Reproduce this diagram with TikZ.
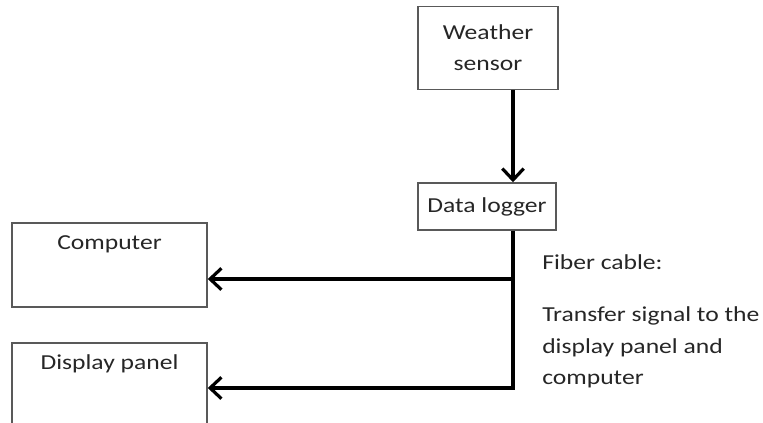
\documentclass[tikz,border=0pt]{standalone}
\usepackage{fontspec}
\setmainfont{Carlito}[FakeStretch=1.2]
\usetikzlibrary{arrows.meta}
\begin{document}
\begin{tikzpicture}[x=0.75pt,y=-0.75pt,
	box/.style={draw=black!65,line width=1.1pt,inner sep=0pt,align=center},
	wire/.style={line width=2.4pt},
	feed/.style={wire,-{Straight Barb[length=8.5pt,width=16pt,line width=2.4pt]}},
	font=\fontsize{16}{23.5}\selectfont,text=black!85]
	\useasboundingbox (0,0) rectangle (763,423);
	\clip (0,0) rectangle (763,423);
	\node[box,minimum width=105pt,minimum height=62.25pt] (sensor) at (488,48) {Weather\\sensor};
	\node[box,minimum width=103.5pt,minimum height=35.25pt] (logger) at (487,206.5) {Data logger};
	\node[box,minimum width=146.25pt,minimum height=63pt,
		label={[anchor=center,yshift=-16.5pt]north:Computer}] (computer) at (109.5,265) {};
	\node[box,minimum width=146.25pt,minimum height=65.25pt,
		label={[anchor=center,yshift=-16.5pt]north:Display panel}] (display) at (109.5,386.5) {};
	\draw[feed] (sensor.south -| 513,0) -- (logger.north -| 513,0);
	\draw[wire] (logger.south -| 513,0) -- (513,279) coordinate (tapc)
		-- (513,388) coordinate (tapd);
	\draw[feed] (tapc) -- (computer.east |- tapc);
	\draw[feed] ([xshift=1.2pt]tapd) -- (display.east |- tapd);
	\node[anchor=north west,align=left,inner sep=0pt] (note) at (542,254)
		{Fiber cable:\\[16pt]Transfer signal to the\\display panel and\\computer};
\end{tikzpicture}
\end{document}
